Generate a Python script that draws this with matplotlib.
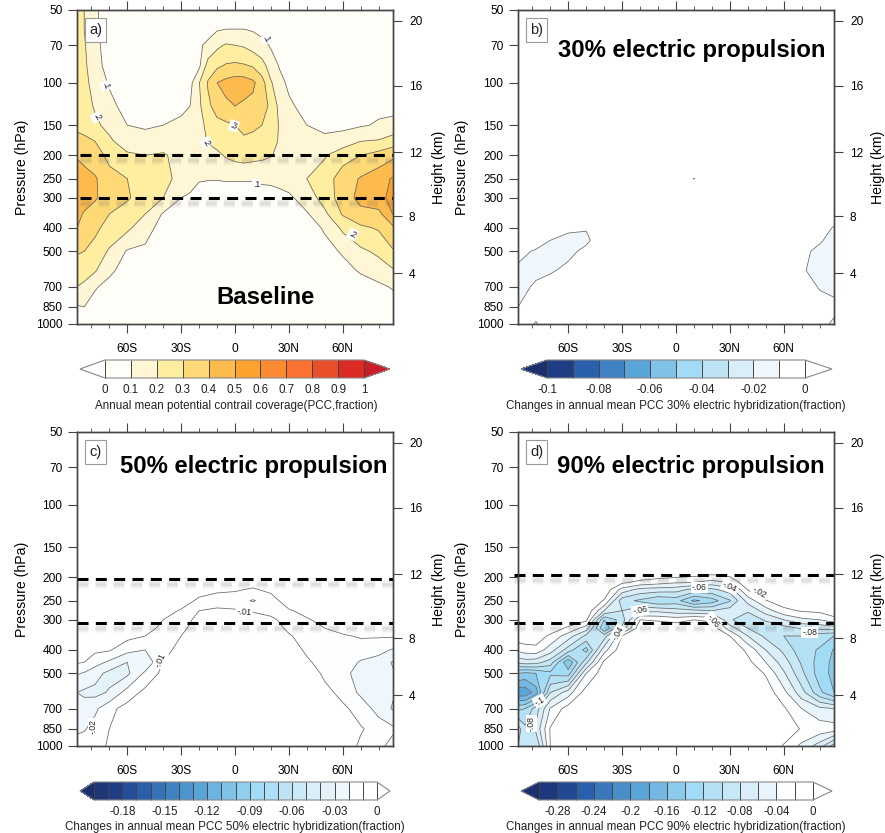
import numpy as np
import matplotlib
matplotlib.use("Agg")
import matplotlib.pyplot as plt
from matplotlib.colors import LinearSegmentedColormap, to_hex
from matplotlib.patches import Rectangle
from matplotlib.transforms import offset_copy
from matplotlib.ticker import NullLocator, FixedLocator

plt.rcParams['font.family'] = ['Liberation Sans', 'DejaVu Sans']

W, H = 885, 833
lats_base = [-88,-84,-78,-70,-60,-50,-40,-30,-25,-20,-15,-10,-5,0,5,10,15,20,25,30,40,50,60,70,80,88]
lats = [-88,-84,-78,-70,-60,-50,-40,-30,-20,-10,0,10,20,30,40,50,60,70,80,88]
p_base = [50,60,70,85,100,125,150,175,200,250,300,350,400,500,600,700,850,1000]
p_diff = [50,150,195,210,225,250,275,300,325,350,400,450,500,600,700,850,1000]

# columns by latitude, percent
pcc_base = [
 [23,23,23,24,24,25,28,33,39,46,46,43,40,31,25,20,9,4],
 [20,20,21,22,23,24,27,32,37,44,44,39,36,30,24,18,10,4],
 [12,12,13,14,16,19,22,30,35,41,41,36,33,25,21,11,6,4],
 [4,4,5,6,9,13,17,22,27,34,36,30,25,19,12,7,4,3],
 [2,2,2,3,4,6,10,14,22,30,31,26,22,9,6,4,3,2],
 [2,2,2,3,4,6,9,13,20,27,26,20,14,8,5,3,2,2],
 [2,2,3,3,4,6,10,16,21,23,20,9,6,4,3,2,2,2],
 [2,2,3,4,5,8,12,15,17,17,10,5,4,3,2,2,2,2],
 [2,3,4,5,7,10,14,15,16,15,8,4,3,2,2,2,2,1],
 [3,5,8,8,19.5,18,15,14,14,11,5,3,2,2,2,2,2,1],
 [2,5,13,24,31,28,24,21,15,10.5,5,3,2,2,1,1,1,1],
 [3,9,18,28,40,34,27,23,18,10.5,4,3,2,2,1,1,1,1],
 [3,10,21,31,43,38,28,24,21,11,4,3,2,2,1,1,1,1],
 [3,10,20,32,45,40,30,26,23,11,4,3,2,2,1,1,1,1],
 [3,10,19,31,45,38,33,28,24,11,4,3,2,2,1,1,1,1],
 [3,9,16,29,42,37,32,27,23,11,4,3,2,2,1,1,1,1],
 [2,7,13,24,34,36,30,26,22,12,5,3,2,2,1,1,1,1],
 [1,4,9,15,21,27,25,23,20.5,12,6,3,2,2,1,1,1,1],
 [1,2,5,9,13,17,19,19,18,13,7,4,3,2,1,1,1,1],
 [1,2,3,6,8,12,14,16,17,15,8,4,3,2,1,1,1,1],
 [1,1,2,3,4,6,10,14,19,20,15,9,6,3,2,1,1,1],
 [1,1,2,3,4,5,7,13,19,26,24,18,11,7,4,2,1,1],
 [1,1,2,3,4,5,8,14,27,34,35,31,22,11,7,4,2,1],
 [1,1,2,3,4,6,9,20,30,41,43,37,28,18,11,6,3,2],
 [2,2,2,3,5,8,11,21,34,46,47,37,31,22,15,8,4,3],
 [2,2,2,3,4,7,13,25,38,51,53,50.5,38,29,19,11,5,5],
]
# columns by latitude, thousandths
pcc_30 = [
 [0,0,0,0,0,0,0,0,-1,-2,-3,-5,-7,-12,-13,-10,-6],
 [0,0,0,0,0,0,0,0,-1,-2,-3,-6,-9,-13,-12,-7,-6],
 [0,0,0,0,0,0,0,0,-1,-2,-3,-6,-11,-13,-8,-5,-11],
 [0,0,0,0,0,0,0,0,-1,-2,-6,-10,-13,-11,-6,-4,-3],
 [0,0,0,0,0,0,0,0,-1,-3,-8,-13,-12,-8,-4,-2,-1],
 [0,0,0,0,0,0,0,-1,-3,-5,-9.5,-11.5,-8,-4,-2,-1,-1],
 [0,0,0,0,0,0,0,-1,-2,-3,-5,-5,-3,-2,-1,0,0],
 [0,0,0,0,0,-1,-1,-1,-1,-1,-1,-1,-1,0,0,0,0],
 [0,0,0,0,0,-1,-1,-1,-1,0,0,0,0,0,0,0,0],
 [0,0,0,0,-1,-2,-1,-1,0,0,0,0,0,0,0,0,0],
 [0,0,0,-1,-2,-4,-1,-1,0,0,0,0,0,0,0,0,0],
 [0,0,0,-1,-3,-10.2,-2,-1,0,0,0,0,0,0,0,0,0],
 [0,0,0,-1,-2,-4,-2,-1,0,0,0,0,0,0,0,0,0],
 [0,0,0,0,0,-1,-1,-1,-1,-1,0,0,0,0,0,0,0],
 [0,0,0,0,0,0,-1,-1,-1,-1,-1,-1,0,0,0,0,0],
 [0,0,0,0,0,0,0,-1,-1,-1,-1,-1,-1,-1,0,0,0],
 [0,0,0,0,0,0,0,0,-1,-1,-2,-2,-2,-2,-1,0,-1],
 [0,0,0,0,0,0,0,0,-1,-2,-3,-6,-8,-9,-4,-1,-2],
 [0,0,0,0,0,0,0,-1,-2,-3,-5,-9,-12,-13,-11,-5,-6],
 [0,0,0,0,0,0,-1,-2,-3,-4,-11,-13,-12,-13,-13,-7,-12],
]
pcc_50 = [
 [0,-1,-2,-2,-2,-3,-3,-4,-4,-5,-7,-9,-19,-30,-29,-22,-15],
 [0,-1,-2,-2,-2,-3,-3,-4,-4,-5,-8,-10,-21,-32,-25,-21,-14],
 [0,-1,-2,-2,-2,-3,-3,-4,-4,-5,-8,-16,-26,-33,-22,-16,-13],
 [0,-1,-1,-2,-2,-2,-3,-3,-3,-4,-9,-22,-33,-29,-13,-10,-9],
 [0,-1,-1,-1,-2,-2,-3,-3,-4,-7,-17,-30,-32,-16,-6,-3,-2],
 [0,0,-1,-1,-2,-2,-3,-5,-7,-10,-20,-28,-18,-7,-3,-2,-1],
 [0,0,-1,-1,-2,-3,-6,-10,-12,-14,-14,-10,-7,-4,-2,-1,-1],
 [0,0,-1,-2,-3,-5,-11,-16,-13,-10,-6,-4,-3,-2,-1,-1,-1],
 [0,0,-2,-3,-6,-12,-10,-6,-4,-3,-2,-1,-1,-1,0,0,0],
 [0,0,-3,-5,-8,-15,-8,-4,-3,-2,-1,-1,-1,0,0,0,0],
 [0,0,-3,-6,-9,-15,-9,-4,-3,-2,-1,-1,0,0,0,0,0],
 [0,-1,-3,-7,-11,-21,-11,-5,-3,-2,-1,-1,0,0,0,0,0],
 [0,0,-2,-5,-8,-14,-13,-8,-5,-3,-2,-1,-1,0,0,0,0],
 [0,0,-1,-2,-3,-5,-11,-14,-12,-9,-4,-3,-2,-1,-1,0,0],
 [0,0,-1,-1,-2,-3,-7,-11,-13,-14,-12,-8,-4,-3,-2,-1,-1],
 [0,0,0,-1,-1,-2,-4,-7,-10,-13,-16,-15,-12,-7,-3,-1,-1],
 [0,0,0,-1,-1,-1,-2,-4,-7,-11,-14,-15,-17,-13,-8,-3,-3],
 [0,0,0,0,-1,-1,-2,-3,-5,-9,-15,-21,-24,-22,-14,-9,-12],
 [0,0,0,0,-1,-1,-2,-3,-5,-9,-17,-24,-27,-27,-24,-14,-17],
 [0,0,0,0,-1,-1,-2,-4,-6,-9,-21,-31,-29,-29,-31,-18,-24],
]
pcc_90 = [
 [0,0,0,0,0,0,0,-1,-2,-8,-35,-75,-140,-195,-125,-70,-80],
 [0,0,0,0,0,0,0,-1,-2,-6,-30,-70,-145,-195,-120,-95,-90],
 [0,0,0,0,0,0,0,0,-2,-6,-28,-72,-140,-170,-90,-75,-100],
 [0,0,0,0,0,0,0,0,-5,-25,-50,-90,-125,-80,-38,-18,-20],
 [0,0,0,0,0,0,0,-1,-25,-50,-90,-158,-130,-50,-10,-3,-2],
 [0,0,0,0,0,0,-3,-15,-50,-85,-128,-85,-40,-10,-3,-1,-1],
 [0,0,0,-1,-5,-22,-60,-120,-140,-90,-48,-15,-7,-3,-1,0,0],
 [0,0,-3,-16,-48,-92,-80,-90,-75,-20,-6,-3,-2,-1,0,0,0],
 [0,-1,-5,-26,-67,-104,-65,-20,-4,-2,-1,0,0,0,0,0,0],
 [0,-1,-8,-32,-70,-118,-65,-23,-3,-1,0,0,0,0,0,0,0],
 [0,-1,-10,-38,-72,-112,-72,-28,-5,-2,-1,0,0,0,0,0,0],
 [0,-1,-14,-40,-86,-145,-75,-20,-4,-2,-1,0,0,0,0,0,0],
 [0,-1,-20,-48,-85,-130,-80,-24,-8,-3,-1,0,0,0,0,0,0],
 [0,-1,-14,-38,-70,-102,-70,-78,-50,-20,-3,-1,0,0,0,0,0],
 [0,0,0,-3,-19,-52,-78,-90,-80,-60,-25,-14,-6,-2,-1,0,0],
 [0,0,0,0,-6,-21,-50,-78,-90,-85,-60,-40,-22,-8,-3,-1,-1],
 [0,0,0,0,-2,-10,-25,-60,-88,-100,-85,-70,-57,-34,-17,-6,-22],
 [0,0,0,0,0,-3,-18,-45,-78,-100,-112,-103,-95,-72,-40,-22,-45],
 [0,0,0,0,0,-2,-15,-40,-75,-112,-122,-128,-130,-115,-55,-28,-70],
 [0,0,0,0,0,-1,-6,-28,-70,-120,-142,-146,-146,-140,-60,-30,-110],
]

warm = ['#ffffff','#fffdf7','#fff6d5','#ffeda0','#fed976','#fdbb4d','#fda32d',
        '#fc8a30','#fc7030','#e94f2a','#dc2a25','#c91d28']
ramp = LinearSegmentedColormap.from_list('r', ['#1a2f6d','#1f3d85','#2a5fab','#3f84c3','#5aa5d8','#7fc1e7',
                                               '#a1dbf6','#bce3f4','#d9eef8','#eff7fc','#ffffff'])
def blues(n, pale=False):
    out = [to_hex(ramp(t)) for t in np.linspace(0, 1, n)] + ['#ffffff']
    if pale:
        out[-3] = '#fcfeff'
    return out

pressure_ticks = [50,70,100,150,200,250,300,400,500,700,850,1000]
height_labels = ['20','16','12','8','4']
height_pressure = [55.5,103,194,357,615]
lat_ticks = [-60,-30,0,30,60]
lat_labels = ['60S','30S','0','30N','60N']

def frac(x0, y0, x1, y1):
    return [x0/W, 1-y1/H, (x1-x0)/W, (y1-y0)/H]

panels = [
 dict(box=(77,10,393,324), z=np.array(pcc_base).T/100, p=p_base, x=lats_base,
      levels=np.round(np.arange(0,1.01,.1),2), colors=warm,
      cb=(105,360,364,378), tri=(80,390), ticks=np.round(np.arange(0,1.01,.1),1),
      ticktxt=['0','0.1','0.2','0.3','0.4','0.5','0.6','0.7','0.8','0.9','1'],
      cblabel='Annual mean potential contrail coverage(PCC,fraction)', cbx=236, cby=406,
      tag='a)', title='Baseline', tx=216, ty=297, ylx=22, yrx=439,
      dash=[(-86.5,199),(-86.5,300)],
      labels=[('.1',-71.8,103,-70),('.2',-77,139,-60),('.1',17.4,66,-60),('.3',-.7,151,-20),
              ('.2',-16,177,-60),('.1',12,264,0),('.2',65.5,425,-30)]),
 dict(box=(518,10,834,324), z=np.array(pcc_30).T/1000, p=p_diff, x=lats,
      levels=np.round(np.arange(-.1,.001,.01),2), colors=blues(11),
      cb=(547,360,805,378), tri=(521,832), ticks=np.round(np.arange(-.1,.001,.02),2),
      ticktxt=['-0.1','-0.08','-0.06','-0.04','-0.02','0'],
      cblabel='Changes in annual mean PCC 30% electric hybridization(fraction)', cbx=676, cby=406,
      tag='b)', title='30% electric propulsion', tx=558, ty=51, ylx=462, yrx=878,
      dash=[], labels=[]),
 dict(box=(77,432,393,746), z=np.array(pcc_50).T/1000, p=p_diff, x=lats,
      levels=np.round(np.arange(-.2,.001,.01),2), colors=blues(21, True),
      cb=(94,782,377,800), tri=(80,390), ticks=np.round(np.arange(-.18,.001,.03),2),
      ticktxt=['-0.18','-0.15','-0.12','-0.09','-0.06','-0.03','0'],
      cblabel='Changes in annual mean PCC 50% electric hybridization(fraction)', cbx=235, cby=827,
      tag='c)', title='50% electric propulsion', tx=120, ty=466, ylx=22, yrx=439,
      dash=[(-88,203),(-88,309)],
      labels=[('-.01',5,278,-5),('-.01',-41.5,440,65),('-.02',-79,831,90)]),
 dict(box=(518,432,834,746), z=np.array(pcc_90).T/1000, p=p_diff, x=lats,
      levels=np.round(np.arange(-.3,.001,.02),2), colors=blues(16, True),
      cb=(539,782,813,800), tri=(521,832), ticks=np.round(np.arange(-.28,.001,.04),2),
      ticktxt=['-0.28','-0.24','-0.2','-0.16','-0.12','-0.08','-0.04','0'],
      cblabel='Changes in annual mean PCC 90% electric hybridization(fraction)', cbx=676, cby=827,
      tag='d)', title='90% electric propulsion', tx=557, ty=466, ylx=462, yrx=878,
      dash=[(-90,196),(-90,309)],
      labels=[('-.06',13,220,0),('-.04',30,219,-25),('-.02',46.7,231,-30),('-.06',-20,275,10),
              ('-.08',74.4,338,0),('-.04',-32.4,341,60),('-.1',-76,651,30),('-.08',-80.6,806,90),
              ('-.06',20.7,303,-50)]),
]

fig = plt.figure(figsize=(W/100, H/100), dpi=100)
TICK = 8.6
AXC = '#444444'
for P in panels:
    ax = fig.add_axes(frac(*P['box']))
    cf = ax.contourf(P['x'], P['p'], P['z'], levels=P['levels'], colors=P['colors'], extend='both')
    line_levels = [l for l in P['levels'] if abs(l) > 1e-6 and P['z'].min() <= l <= P['z'].max()]
    ax.contour(P['x'], P['p'], P['z'], levels=line_levels, colors='#666666', linewidths=.55,
               linestyles='solid')
    ax.set_yscale('log')
    ax.set_ylim(1000, 50)
    ax.set_xlim(-88, 88)
    ax.yaxis.set_major_locator(FixedLocator(pressure_ticks))
    ax.yaxis.set_minor_locator(NullLocator())
    ax.set_yticklabels([str(v) for v in pressure_ticks])
    ax.set_xticks(lat_ticks)
    ax.set_xticklabels(lat_labels)
    ax.set_xticks(np.arange(-80, 81, 10), minor=True)
    ax.tick_params(axis='x', which='major', top=True, length=6.5, width=.8, pad=7, labelsize=TICK, color=AXC)
    ax.tick_params(axis='x', which='minor', top=True, length=3.2, width=.6, color=AXC)
    ax.tick_params(axis='y', length=6.5, width=.8, pad=4, labelsize=TICK, color=AXC)
    ax.set_ylabel('Pressure (hPa)', fontsize=10.2)
    x0, y0, x1, y1 = P['box']
    bw, bh = x1-x0, y1-y0
    ax.yaxis.set_label_coords((P['ylx']+7-x0)/bw, .5)

    ax2 = ax.twinx()
    ax2.set_yscale('log')
    ax2.set_ylim(1000, 50)
    ax2.yaxis.set_major_locator(FixedLocator(height_pressure))
    ax2.yaxis.set_minor_locator(NullLocator())
    ax2.set_yticklabels(height_labels)
    ax2.tick_params(axis='y', length=6.5, width=.8, pad=5, labelsize=TICK, color=AXC)
    ax2.set_ylabel('Height (km)', fontsize=10.2)
    ax2.yaxis.set_label_coords((P['yrx']-7-x0)/bw, .5)

    for s in list(ax.spines.values()) + list(ax2.spines.values()):
        s.set_linewidth(1.0)
        s.set_color(AXC)

    for t, la, pr, rot in P['labels']:
        ax.text(la, pr, t, fontsize=6.2, rotation=rot, ha='center', va='center', color='#222222',
                rotation_mode='anchor', zorder=6,
                bbox=dict(fc='white', ec='none', pad=.8))

    for la, pr in P['dash']:
        for alpha, lw in [(.035, 6.5), (.045, 5), (.06, 3.5), (.07, 2)]:
            tr = offset_copy(ax.transData, fig=fig, x=0, y=-3.6, units='points')
            ax.plot([la, 88], [pr, pr], color='#666666', lw=lw, alpha=alpha, ls=(0, (7.9/lw, 5/lw)),
                    clip_on=False, dash_capstyle='butt', zorder=4, transform=tr)
        ax.plot([la, 88], [pr, pr], color='k', lw=2.2, ls=(0, (3.6, 2.4)), clip_on=False,
                dash_capstyle='butt', zorder=5)

    ax2.add_patch(Rectangle((8/bw, 1-32/bh), 21/bw, 24/bh, transform=ax2.transAxes, fc='white',
                            ec='#999999', lw=.8, zorder=7))
    ax2.text(18.5/bw, 1-20/bh, P['tag'], transform=ax2.transAxes, fontsize=10.5, color='#222222',
             ha='center', va='center', zorder=8)
    fig.text(P['tx']/W, 1-P['ty']/H, P['title'], fontsize=17.2, fontweight='bold', color='k',
             ha='left', va='center', zorder=8)

    cx0, cy0, cx1, cy1 = P['cb']
    tl, tr_ = P['tri']
    cax = fig.add_axes(frac(tl, cy0, tr_, cy1))
    cb = fig.colorbar(cf, cax=cax, orientation='horizontal', extend='both',
                      extendfrac=[(cx0-tl)/(cx1-cx0), (tr_-cx1)/(cx1-cx0)],
                      ticks=P['ticks'], drawedges=True, spacing='proportional')
    cb.set_ticklabels(P['ticktxt'])
    cb.ax.tick_params(length=0, labelsize=8.4, pad=4, labelcolor='#222222')
    cb.ax.minorticks_off()
    cb.outline.set_linewidth(.8)
    cb.outline.set_edgecolor('#888888')
    cb.dividers.set_color('#444444')
    cb.dividers.set_linewidth(.7)
    fig.text(P['cbx']/W, 1-P['cby']/H, P['cblabel'], fontsize=8.35, color='#222222', ha='center', va='center')

fig.savefig('out.png', dpi=100)
